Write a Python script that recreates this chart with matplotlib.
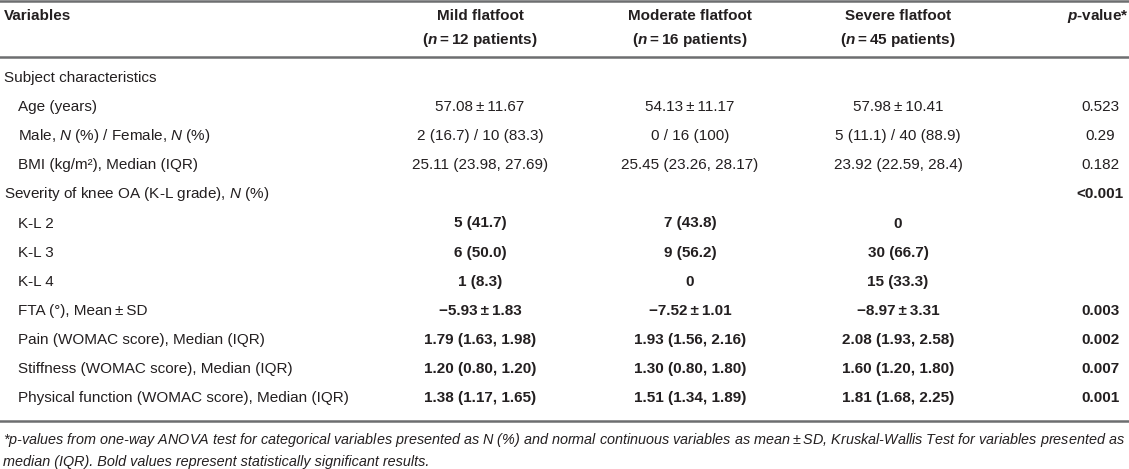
import matplotlib
matplotlib.use("Agg")
import matplotlib.pyplot as plt
from matplotlib.lines import Line2D

plt.rcParams['font.family'] = ['Liberation Sans', 'DejaVu Sans']
plt.rcParams['mathtext.fontset'] = 'custom'
plt.rcParams['mathtext.rm'] = 'Liberation Sans'
plt.rcParams['mathtext.it'] = 'Liberation Sans:italic'
plt.rcParams['mathtext.bf'] = 'Liberation Sans:bold'
plt.rcParams['mathtext.bfit'] = 'Liberation Sans:italic:bold'

T = '\u2009'

# table content
group_names = ['Mild flatfoot', 'Moderate flatfoot', 'Severe flatfoot']
group_sizes = [12, 16, 45]

row_labels = [
    'Subject characteristics',
    'Age (years)',
    r'Male, $\mathit{N}$ (%) / Female, $\mathit{N}$ (%)',
    'BMI (kg/m\u00b2), Median (IQR)',
    r'Severity of knee OA (K-L grade), $\mathit{N}$ (%)',
    'K-L 2',
    'K-L 3',
    'K-L 4',
    'FTA (\u00b0), Mean' + T + '\u00b1' + T + 'SD',
    'Pain (WOMAC score), Median (IQR)',
    'Stiffness (WOMAC score), Median (IQR)',
    'Physical function (WOMAC score), Median (IQR)',
]
row_indent = [False, True, True, True, False, True, True, True, True, True, True, True]

mild = ['', '57.08' + T + '\u00b1' + T + '11.67', '2 (16.7) / 10 (83.3)', '25.11 (23.98, 27.69)',
        '', '5 (41.7)', '6 (50.0)', '1 (8.3)', '\u22125.93' + T + '\u00b1' + T + '1.83',
        '1.79 (1.63, 1.98)', '1.20 (0.80, 1.20)', '1.38 (1.17, 1.65)']
moderate = ['', '54.13' + T + '\u00b1' + T + '11.17', '0 / 16 (100)', '25.45 (23.26, 28.17)',
            '', '7 (43.8)', '9 (56.2)', '0', '\u22127.52' + T + '\u00b1' + T + '1.01',
            '1.93 (1.56, 2.16)', '1.30 (0.80, 1.80)', '1.51 (1.34, 1.89)']
severe = ['', '57.98' + T + '\u00b1' + T + '10.41', '5 (11.1) / 40 (88.9)', '23.92 (22.59, 28.4)',
          '', '0', '30 (66.7)', '15 (33.3)', '\u22128.97' + T + '\u00b1' + T + '3.31',
          '2.08 (1.93, 2.58)', '1.60 (1.20, 1.80)', '1.81 (1.68, 2.25)']
p_values = ['', '0.523', '0.29', '0.182', '<0.001', '', '', '', '0.003', '0.002', '0.007', '0.001']
bold_values = [False, False, False, False, True, True, True, True, True, True, True, True]

footnote = [
    r'*$p$-values from one-way ANOVA test for categorical variables presented as N (%) and normal continuous '
    'variables as mean' + T + '\u00b1' + T + 'SD, Kruskal-Wallis Test for variables presented as',
    'median (IQR). Bold values represent statistically significant results.',
]

W, H = 1129, 469
fig = plt.figure(figsize=(W / 100, H / 100), dpi=100)
txt_color = '#231f20'
line_color = '#6d6e70'
fs = 11.0


def fy(y):
    return 1 - y / H


def fx(x):
    return x / W


def hline(y, lw=1.6):
    fig.add_artist(Line2D([0, 1], [fy(y), fy(y)], color=line_color, lw=lw,
                          transform=fig.transFigure))


hline(1.2, 1.8)
hline(57.5, 1.8)
hline(420.5, 1.8)

col_x = [480, 690, 898]
p_x = 1100

# header
fig.text(fx(4), fy(16), 'Variables', fontsize=fs, fontweight='bold', color=txt_color,
         ha='left', va='center')
for x, name, n in zip(col_x, group_names, group_sizes):
    fig.text(fx(x), fy(16), name, fontsize=fs, fontweight='bold', color=txt_color,
             ha='center', va='center')
    fig.text(fx(x), fy(40), r'($\mathbfit{n}$' + T + '=' + T + f'{n} patients)', fontsize=fs,
             fontweight='bold', color=txt_color, ha='center', va='center')
fig.text(fx(p_x - 2), fy(16), r'$\mathbfit{p}$-value*', fontsize=fs, fontweight='bold',
         color=txt_color, ha='center', va='center')

# body
y0, dy = 78, 29.1
for i, label in enumerate(row_labels):
    y = y0 + i * dy
    fig.text(fx(18 if row_indent[i] else 4), fy(y), label, fontsize=fs, color=txt_color,
             ha='left', va='center')
    wt = 'bold' if bold_values[i] else 'normal'
    for x, col in zip(col_x, [mild, moderate, severe]):
        fig.text(fx(x), fy(y), col[i], fontsize=fs, fontweight=wt, color=txt_color,
                 ha='center', va='center')
    fig.text(fx(p_x), fy(y), p_values[i], fontsize=fs, fontweight=wt, color=txt_color,
             ha='center', va='center')

# footnote
for j, line in enumerate(footnote):
    fig.text(fx(3), fy(440 + j * 22), line, fontsize=10.4, style='italic', color=txt_color,
             ha='left', va='center')

fig.savefig('out.png', dpi=100)
